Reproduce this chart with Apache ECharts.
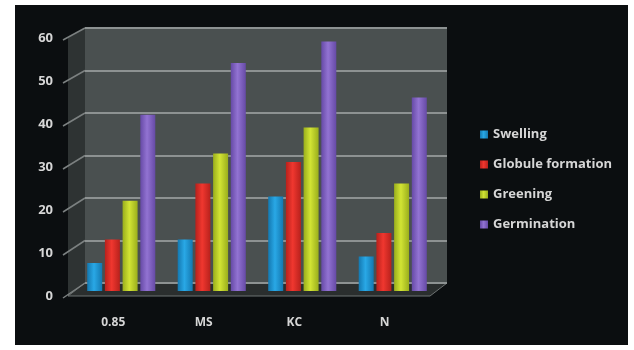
<!DOCTYPE html>
<html>
<head>
<meta charset="utf-8">
<script src="https://cdn.jsdelivr.net/npm/echarts@6/dist/echarts.min.js"></script>
<style>
  html, body { margin: 0; padding: 0; background: #fff; }
  #chart { width: 634px; height: 350px; }
</style>
</head>
<body>
<div id="chart"></div>
<script>
// data
const categories = ["0.85", "MS", "KC", "N"];
const swelling = [6.5, 12, 22, 8];
const globule = [12, 25, 30, 13.5];
const greening = [21, 32, 38, 25];
const germination = [41, 53, 58, 45];
const yMin = 0, yMax = 60, yStep = 10;

// layout of the fake 3d box: back wall, bar plane, front edge
const back = { left: 85, top: 28, width: 362, height: 255 };
const mid = { left: 76, top: 33, width: 362, height: 258 };
const front = { left: 68, top: 38, width: 362, height: 258 };

const txt = "#d6d6d6";
const font = "Open Sans";

function yAt(box, v) {
  return box.top + box.height * (1 - (v - yMin) / (yMax - yMin));
}

function barColor(c1, c2) {
  return {
    type: "linear", x: 0, y: 0, x2: 1, y2: 0,
    colorStops: [
      { offset: 0, color: c2 },
      { offset: 0.45, color: c1 },
      { offset: 1, color: c2 }
    ]
  };
}

// walls + side ticks
let deco = [
  { type: "rect", shape: { x: 15, y: 5, width: 613, height: 340 }, style: { fill: "#0b0e10" }, z: -10 },
  {
    type: "polygon", z: -5,
    shape: { points: [[front.left, yAt(front, yMax)], [back.left, yAt(back, yMax)], [back.left, yAt(back, yMin)], [front.left, yAt(front, yMin)]] },
    style: { fill: "#2e3333" }
  },
  {
    type: "polygon", z: -5,
    shape: { points: [[front.left, yAt(front, yMin)], [back.left, yAt(back, yMin)], [back.left + back.width, yAt(back, yMin)], [front.left + front.width, yAt(front, yMin)]] },
    style: { fill: "#2a2e2e", stroke: "#6d7272", lineWidth: 1 }
  }
];
for (let v = yMin; v <= yMax; v += yStep) {
  deco.push({
    type: "line", z: -4,
    shape: { x1: front.left - 5, y1: yAt(front, v) + 2, x2: back.left, y2: yAt(back, v) },
    style: { stroke: "#7c8181", lineWidth: 1.5 }
  });
}

const names = ["Swelling", "Globule formation", "Greening", "Germination"];
const values = [swelling, globule, greening, germination];
const colors = [["#29a8e6", "#1478b0"], ["#f0372f", "#b8211c"], ["#d2e434", "#9aae1c"], ["#9273d2", "#664aa6"]];

const chart = echarts.init(document.getElementById("chart"));
chart.setOption({
  backgroundColor: "#ffffff",
  animation: false,
  textStyle: { fontFamily: font },
  graphic: deco,
  legend: {
    orient: "vertical",
    left: 475,
    top: 123,
    itemGap: 17,
    itemWidth: 8,
    itemHeight: 8,
    icon: "rect",
    data: names,
    textStyle: { color: txt, fontSize: 13, fontWeight: "bold", fontFamily: font }
  },
  grid: [
    Object.assign({ show: true, backgroundColor: "#4a5050", borderWidth: 0 }, back),
    mid,
    front
  ],
  xAxis: [
    { type: "category", gridIndex: 0, data: categories, show: false },
    { type: "category", gridIndex: 1, data: categories, show: false },
    {
      type: "category", gridIndex: 2, data: categories,
      axisLine: { show: false }, axisTick: { show: false },
      axisLabel: { color: txt, fontSize: 12, fontWeight: "bold", margin: 21 }
    }
  ],
  yAxis: [
    {
      type: "value", gridIndex: 0, min: yMin, max: yMax, interval: yStep,
      axisLabel: { show: false }, axisLine: { show: false }, axisTick: { show: false },
      splitLine: { lineStyle: { color: "#8d9292", width: 2 } }
    },
    { type: "value", gridIndex: 1, min: yMin, max: yMax, interval: yStep, show: false },
    {
      type: "value", gridIndex: 2, min: yMin, max: yMax, interval: yStep,
      axisLine: { show: false }, axisTick: { show: false }, splitLine: { show: false },
      axisLabel: { color: txt, fontSize: 13, fontWeight: "bold", margin: 15 }
    }
  ],
  series: names.map((n, i) => ({
    name: n,
    type: "bar",
    xAxisIndex: 1,
    yAxisIndex: 1,
    data: values[i],
    barWidth: 15,
    barGap: "18%",
    itemStyle: { color: barColor(colors[i][0], colors[i][1]) }
  }))
});
// legend icons use the plain colour
chart.setOption({ series: names.map((n, i) => ({ name: n, color: colors[i][0] })) });
</script>
</body>
</html>
